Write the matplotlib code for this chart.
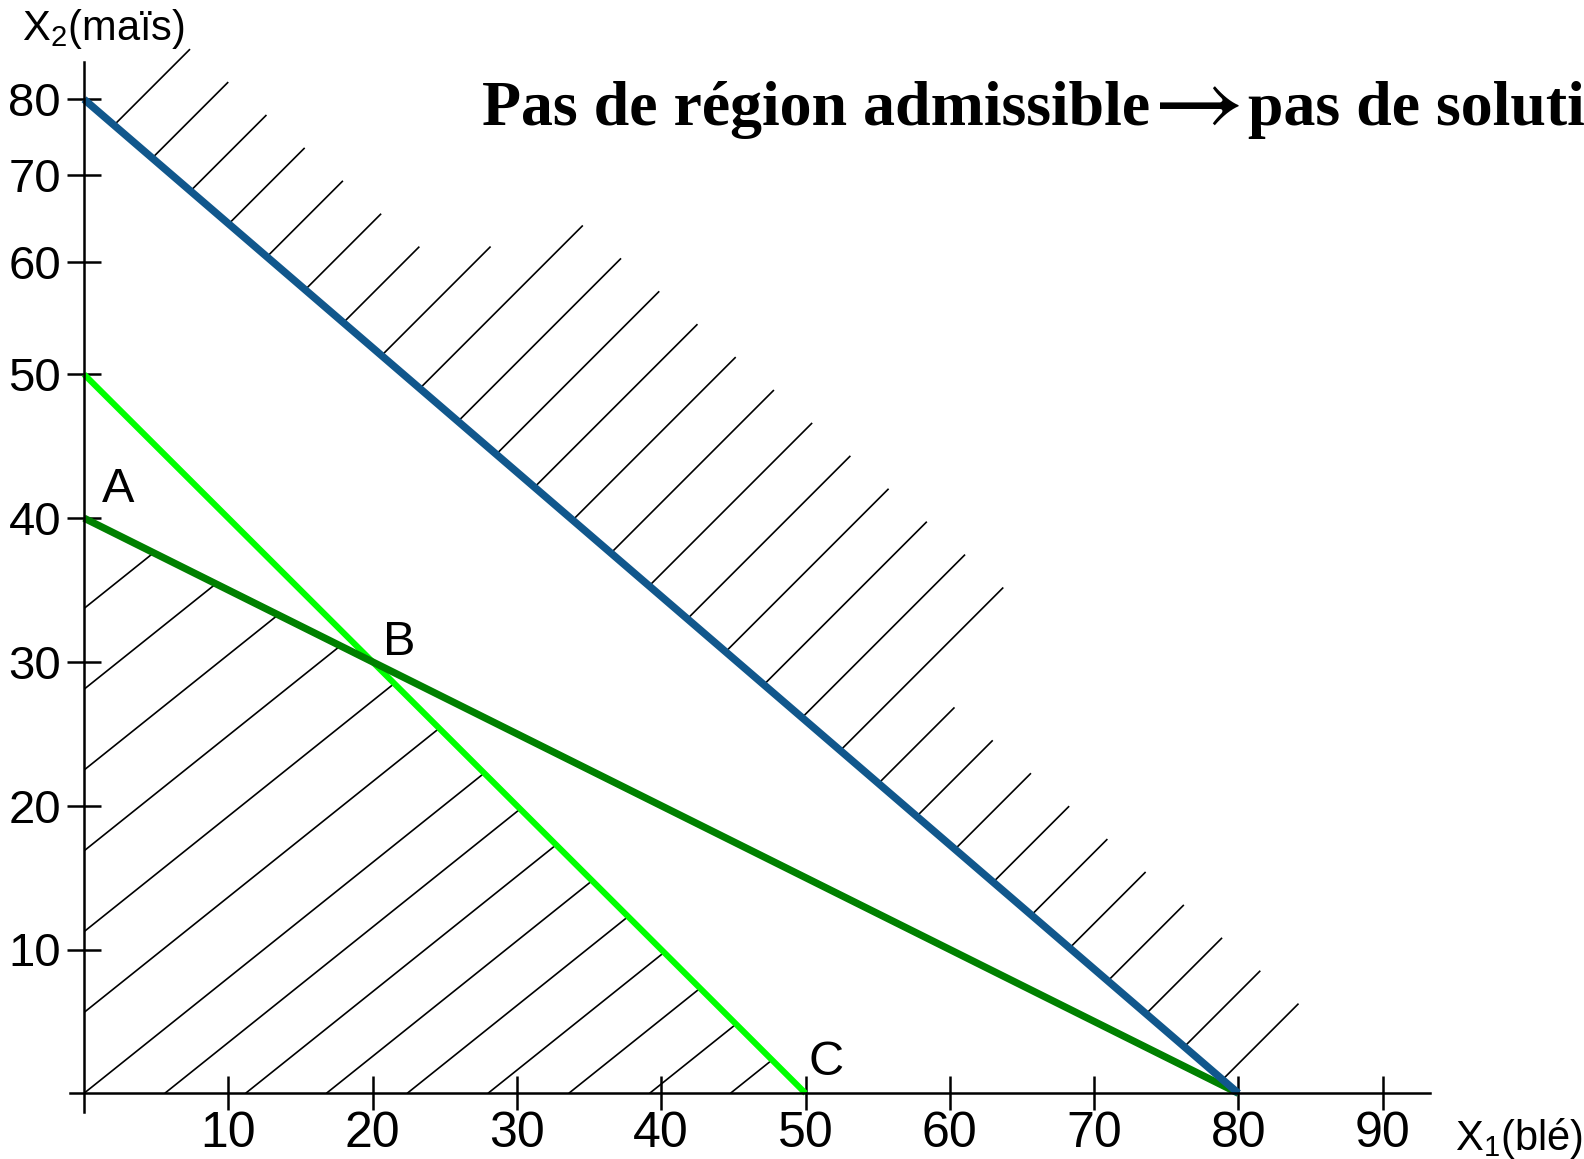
import numpy as np
import matplotlib
matplotlib.use('Agg')
import matplotlib.pyplot as plt
from matplotlib.collections import LineCollection
from matplotlib.patches import Polygon
from matplotlib.transforms import IdentityTransform

# contraintes (droites) : intercepts x1 / x2
blue_x = [0, 80]
blue_y = [80, 0]
dark_green_x = [0, 80]
dark_green_y = [40, 0]
light_green_x = [0, 50]
light_green_y = [50, 0]

x_ticks = [10, 20, 30, 40, 50, 60, 70, 80, 90]
y_ticks = [10, 20, 30, 40, 50, 60, 70, 80]

# sommets de la zone hachuree du bas
pt_names = ['A', 'B', 'C']
pt_x = [0, 20, 50]
pt_y = [40, 30, 0]

title_left = 'Pas de région admissible'
title_arrow = r'$\rightarrow$'
title_right = 'pas de soluti'

plt.rcParams['font.family'] = ['Liberation Sans', 'DejaVu Sans']
plt.rcParams['mathtext.fontset'] = 'custom'
plt.rcParams['mathtext.rm'] = 'Liberation Sans'
plt.rcParams['mathtext.it'] = 'Liberation Sans:italic'

W, H = 1584, 1159
fig = plt.figure(figsize=(W / 100, H / 100), dpi=100)
ax = fig.add_axes([0, 0, 1, 1])
ax.patch.set_alpha(0)

# the hand drawn y axis is squeezed above 50
y_knots = [-100, 0, 50, 60, 70, 80, 200]
h_knots = [-1438, 0, 719, 831, 918, 994, 994 + 120 * 7.6]
ax.set_yscale('function', functions=(lambda y: np.interp(y, y_knots, h_knots),
                                     lambda h: np.interp(h, h_knots, y_knots)))
px_x = 14.43
ax.set_xlim(-84 / px_x, (W - 84) / px_x)
ax.set_ylim(np.interp(-65.7, h_knots, y_knots), np.interp(H - 65.7, h_knots, y_knots))

# axes
for s in ['top', 'right']:
    ax.spines[s].set_visible(False)
ax.spines['left'].set_position(('data', 0))
ax.spines['bottom'].set_position(('data', 0))
ax.spines['left'].set_bounds(-1.3, 84.9)
ax.spines['bottom'].set_bounds(-1.0, 93.3)
for s in ['left', 'bottom']:
    ax.spines[s].set_linewidth(1.8)

ax.set_xticks(x_ticks)
ax.set_yticks(y_ticks)
ax.tick_params(direction='inout', length=25, width=1.8, color='black')
ax.tick_params(axis='x', labelsize=36, pad=0)
ax.tick_params(axis='y', labelsize=34, pad=4)

to_disp = ax.transData.transform

# hachures du bas (zone sous les deux droites vertes)
o = to_disp((0, 0))
step = 80.8
d = np.array([1.0, 0.8]) / np.hypot(1.0, 0.8)
starts = [o + [0, step * k] for k in range(7)] + [o + [step * k, 0] for k in range(1, 9)]
segs = [[s, s + 900 * d] for s in starts]
region = Polygon(np.c_[[0] + pt_x, [0] + pt_y], closed=True, transform=ax.transData)
lc = LineCollection(segs, colors='black', linewidths=1.2, transform=IdentityTransform())
ax.add_collection(lc, autolim=False)
lc.set_clip_path(region)

# hachures au-dessus de la droite bleue
p0 = to_disp((blue_x[0], blue_y[0]))
p1 = to_disp((blue_x[1], blue_y[1]))
fr = np.linspace(2.08, 78.9, 30) / 80
lens = np.r_[np.full(7, 76), 109, np.full(12, 163), np.full(10, 76)]
useg = []
for f, L in zip(fr, lens):
    s = p0 + f * (p1 - p0)
    useg.append([s, s + [L, L]])
ax.add_collection(LineCollection(useg, colors='black', linewidths=1.2,
                                 transform=IdentityTransform()), autolim=False)

ax.plot(light_green_x, light_green_y, color='#00ff00', lw=4.4, solid_capstyle='butt')
ax.plot(dark_green_x, dark_green_y, color='#008000', lw=5.2, solid_capstyle='butt')
ax.plot(blue_x, blue_y, color='#11578c', lw=5.4, solid_capstyle='butt')

offsets = [(34, 16), (27, 7), (21, 18)]
for name, x, y, off in zip(pt_names, pt_x, pt_y, offsets):
    ax.annotate(name, xy=(x, y), xytext=off, textcoords='offset pixels',
                fontsize=35, ha='center', va='baseline')

fig.text(22 / W, 1 - 40 / H, r'X$_2$(maïs)', fontsize=30, ha='left', va='baseline')
fig.text(1455 / W, 1 - 1150 / H, r'X$_1$(blé)', fontsize=30, ha='left', va='baseline')

serif = ['Liberation Serif', 'DejaVu Serif']
fig.text(482 / W, 1 - 125 / H, title_left, fontsize=46, fontweight='bold',
         family=serif, ha='left', va='baseline')
fig.text(1189 / W, 1 - 104 / H, title_arrow, fontsize=72, math_fontfamily='stix',
         ha='center', va='center')
fig.text(1248 / W, 1 - 125 / H, title_right, fontsize=46, fontweight='bold',
         family=serif, ha='left', va='baseline')

# couleurs particulieres de certains traits de graduation
fig.canvas.draw()
for t, v in zip(ax.yaxis.get_major_ticks(), y_ticks):
    if v >= 60:
        t.tick1line.set_color('#6e3a6e')
    elif v == 40:
        t.tick1line.set_color('#e2dfe8')
for t, v in zip(ax.xaxis.get_major_ticks(), x_ticks):
    if v == 50:
        t.tick1line.set_color('#e2dfe8')

fig.savefig('out.png', dpi=100)
